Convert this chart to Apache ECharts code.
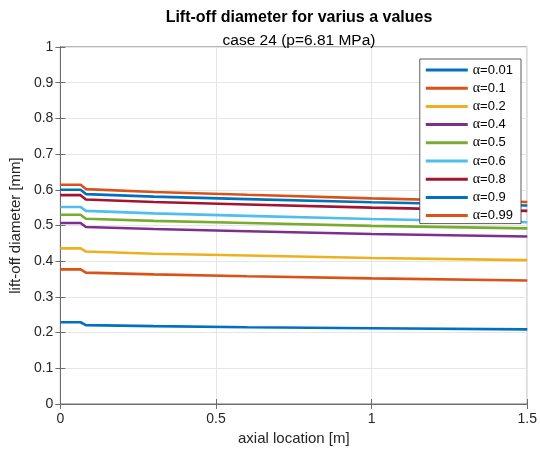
<!DOCTYPE html>
<html><head><meta charset="utf-8">
<script src="https://cdn.jsdelivr.net/npm/echarts@6/dist/echarts.min.js"></script>
<style>html,body{margin:0;padding:0;background:#fff}#c{width:540px;height:451px}</style>
</head><body><div id="c"></div>
<script>
var xs = [0, 0.065, 0.082, 0.3, 0.6, 1.0, 1.5];
var alphaLabels = ['0.01','0.1','0.2','0.4','0.5','0.6','0.8','0.9','0.99'];
var a001 = [0.229, 0.229, 0.221, 0.218, 0.215, 0.212, 0.209];
var a01  = [0.377, 0.377, 0.368, 0.363, 0.358, 0.352, 0.346];
var a02  = [0.436, 0.436, 0.427, 0.421, 0.416, 0.409, 0.403];
var a04  = [0.507, 0.507, 0.496, 0.490, 0.484, 0.476, 0.469];
var a05  = [0.530, 0.530, 0.519, 0.513, 0.507, 0.499, 0.492];
var a06  = [0.552, 0.552, 0.541, 0.534, 0.527, 0.518, 0.509];
var a08  = [0.585, 0.585, 0.573, 0.566, 0.559, 0.550, 0.541];
var a09  = [0.600, 0.600, 0.588, 0.581, 0.574, 0.565, 0.556];
var a099 = [0.614, 0.614, 0.602, 0.594, 0.586, 0.576, 0.566];
var seriesValues = [a001, a01, a02, a04, a05, a06, a08, a09, a099];
var colors = ['#0072BD','#D95319','#EDB120','#7E2F8E','#77AC30','#4DBEEE','#A2142F','#0072BD','#D95319'];
var xTicks = [0, 0.5, 1, 1.5];
var yTicks = [0,0.1,0.2,0.3,0.4,0.5,0.6,0.7,0.8,0.9,1];

var chart = echarts.init(document.getElementById('c'));
var series = alphaLabels.map(function(l, i){
  return {
    name: 'α=' + l, type: 'line', showSymbol: false, symbol: 'none',
    data: xs.map(function(x, j){ return [x, seriesValues[i][j]]; }),
    lineStyle: {width: 2.6, color: colors[i]}, itemStyle: {color: colors[i]},
    z: 2
  };
});
var fnt = 'Liberation Sans, Arial, sans-serif';
chart.setOption({
  animation: false,
  title: [
    {text: 'Lift-off diameter for varius a values', left: 294, textAlign: 'center', top: 5,
     textStyle: {fontFamily: fnt, fontSize: 16, fontWeight: 'bold', color: '#000'}},
    {text: 'case 24 (p=6.81 MPa)', left: 294, textAlign: 'center', top: 28,
     textStyle: {fontFamily: fnt, fontSize: 15.5, fontWeight: 'normal', color: '#000'}}
  ],
  grid: {left: 58, right: 12, top: 47, bottom: 47, show: true, borderColor: '#6e6e6e', borderWidth: 1, backgroundColor: 'transparent'},
  legend: {
    z: 20,
    orient: 'vertical', right: 19, top: 59, itemGap: 4.2,
    itemWidth: 42, itemHeight: 3, icon: 'rect',
    backgroundColor: '#fff', borderColor: '#333', borderWidth: 0.8,
    padding: [4, 8, 1, 6],
    data: alphaLabels.map(function(l){ return 'α=' + l; }),
    formatter: function(n){ return '{g|α}{t|' + n.slice(1) + '}'; },
    textStyle: {fontFamily: fnt, fontSize: 13, lineHeight: 14, color: '#000',
      rich: {g: {fontFamily: 'Liberation Serif, serif', fontSize: 14, lineHeight: 14, color: '#000'},
             t: {fontFamily: fnt, fontSize: 13, lineHeight: 14, color: '#000'}}}
  },
  xAxis: [{
    type: 'value', min: 0, max: 1.5, interval: 0.5,
    name: 'axial location [m]', nameLocation: 'middle', nameGap: 26,
    nameTextStyle: {fontFamily: fnt, fontSize: 15, color: '#262626'},
    axisLine: {show: true, onZero: false, lineStyle: {color: '#6e6e6e'}},
    axisTick: {show: true, inside: true, length: 5, lineStyle: {color: '#6e6e6e'}},
    axisLabel: {fontFamily: fnt, fontSize: 14, color: '#262626', margin: 8,
      formatter: function(v){ return xTicks.indexOf(v) >= 0 ? String(v) : ''; }},
    splitLine: {show: true, lineStyle: {color: '#e6e6e6', width: 1}}
  }, {
    type: 'value', min: 0, max: 1.5, interval: 0.5, position: 'top',
    axisLine: {show: true, lineStyle: {color: '#6e6e6e'}},
    axisTick: {show: true, inside: true, length: 5, lineStyle: {color: '#6e6e6e'}},
    axisLabel: {show: false}, splitLine: {show: false}
  }],
  yAxis: [{
    type: 'value', min: 0, max: 1, interval: 0.1,
    name: 'lift-off diameter [mm]', nameLocation: 'middle', nameGap: 32,
    nameTextStyle: {fontFamily: fnt, fontSize: 15, color: '#262626'},
    axisLine: {show: true, lineStyle: {color: '#6e6e6e'}},
    axisTick: {show: true, inside: true, length: 5, lineStyle: {color: '#6e6e6e'}},
    axisLabel: {fontFamily: fnt, fontSize: 14, color: '#262626', margin: 7,
      formatter: function(v){ var r = Math.round(v*10)/10; return yTicks.indexOf(r) >= 0 ? String(r) : ''; }},
    splitLine: {show: true, lineStyle: {color: '#e6e6e6', width: 1}}
  }, {
    type: 'value', min: 0, max: 1, interval: 0.1, position: 'right',
    axisLine: {show: true, lineStyle: {color: '#6e6e6e'}},
    axisTick: {show: true, inside: true, length: 5, lineStyle: {color: '#6e6e6e'}},
    axisLabel: {show: false}, splitLine: {show: false}
  }],
  series: series
});
</script></body></html>
